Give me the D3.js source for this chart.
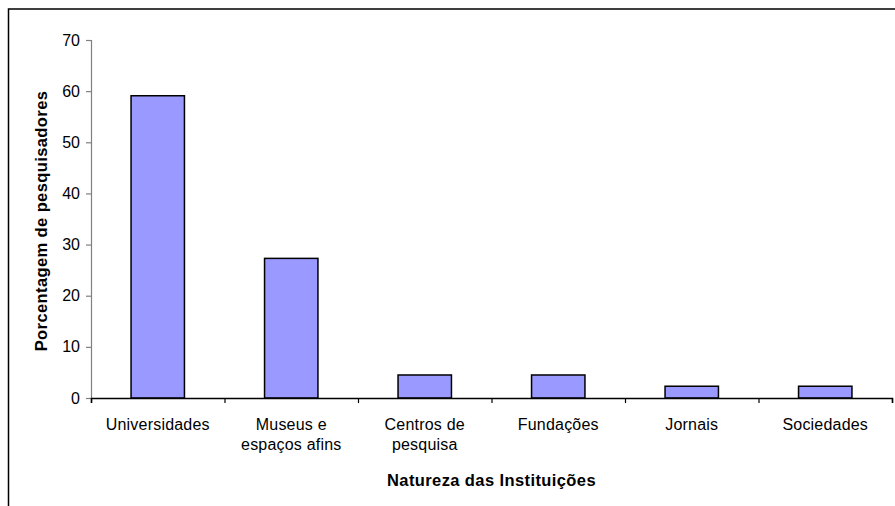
<!DOCTYPE html>
<html>
<head>
<meta charset="utf-8">
<script src="https://cdn.jsdelivr.net/npm/d3@7"></script>
<style>
  body { margin: 0; background: #fff; }
  svg text { font-family: "Liberation Sans", Arial, sans-serif; fill: #000; }
</style>
</head>
<body>
<div id="vis"></div>
<script>
const svgWidth = 895,
  svgHeight = 506;

// data
const categories = [
  ["Universidades"],
  ["Museus e", "espaços afins"],
  ["Centros de", "pesquisa"],
  ["Fundações"],
  ["Jornais"],
  ["Sociedades"],
];
const values = [59.1, 27.3, 4.5, 4.5, 2.3, 2.3];
const yTicks = [0, 10, 20, 30, 40, 50, 60, 70];
const xTitle = "Natureza das Instituições";
const yTitle = "Porcentagem de pesquisadores";

const plot = { left: 91, right: 892, top: 40, bottom: 398 };

const svg = d3
  .select("#vis")
  .append("svg")
  .attr("width", svgWidth)
  .attr("height", svgHeight);

// outer frame (only left and top visible in the picture)
svg
  .append("rect")
  .attr("x", 8.5)
  .attr("y", 9)
  .attr("width", svgWidth)
  .attr("height", svgHeight)
  .attr("fill", "none")
  .attr("stroke", "#000")
  .attr("stroke-width", 1.5);

const idx = categories.map((d, i) => i);

const x = d3
  .scaleBand()
  .domain(idx)
  .range([plot.left, plot.right])
  .paddingInner(0.6)
  .paddingOuter(0.3);

const xEdges = d3
  .scaleLinear()
  .domain([0, categories.length])
  .range([plot.left, plot.right]);

const y = d3.scaleLinear().domain([0, 70]).range([plot.bottom, plot.top]);

// bars
svg
  .append("g")
  .selectAll("rect")
  .data(values)
  .enter()
  .append("rect")
  .attr("x", (d, i) => x(i))
  .attr("y", (d) => y(d))
  .attr("width", x.bandwidth())
  .attr("height", (d) => y(0) - y(d))
  .attr("fill", "#9999ff")
  .attr("stroke", "#000")
  .attr("stroke-width", 1.5);

// y axis
const yAxis = svg
  .append("g")
  .attr("transform", `translate(${plot.left},0)`)
  .call(d3.axisLeft(y).tickValues(yTicks).tickSize(5).tickPadding(6));
yAxis.select(".domain").attr("stroke", "#808080").attr("stroke-width", 1.2);
yAxis.selectAll(".tick line").attr("stroke", "#808080").attr("stroke-width", 1.2);
yAxis
  .selectAll(".tick text")
  .style("font-family", "Liberation Sans, Arial, sans-serif")
  .style("font-size", "16px")
  .attr("fill", "#000");

// x axis: tick marks between the categories
const xAxis = svg
  .append("g")
  .attr("transform", `translate(0,${plot.bottom})`)
  .call(
    d3
      .axisBottom(xEdges)
      .tickValues(d3.range(categories.length + 1))
      .tickSize(5)
      .tickFormat("")
  );
xAxis.select(".domain").attr("stroke", "#000").attr("stroke-width", 1.5);
xAxis.selectAll(".tick line").attr("stroke", "#000").attr("stroke-width", 1.2);

// category labels
const labels = svg
  .append("g")
  .selectAll("text")
  .data(categories)
  .enter()
  .append("text")
  .attr("text-anchor", "middle")
  .style("font-size", "16px")
  .style("letter-spacing", "0.2px")
  .attr("y", 430);
labels
  .selectAll("tspan")
  .data((d, i) => d.map((t) => ({ t, i })))
  .enter()
  .append("tspan")
  .attr("x", (d) => x(d.i) + x.bandwidth() / 2)
  .attr("dy", (d, j) => (j === 0 ? 0 : 20))
  .text((d) => d.t);

// axis titles
svg
  .append("text")
  .attr("x", (plot.left + plot.right) / 2)
  .attr("y", 486)
  .attr("text-anchor", "middle")
  .style("font-size", "16.5px")
  .style("font-weight", "bold")
  .style("letter-spacing", "0.4px")
  .text(xTitle);

svg
  .append("text")
  .attr("transform", `translate(47,${(plot.top + plot.bottom) / 2 + 2}) rotate(-90)`)
  .attr("text-anchor", "middle")
  .style("font-size", "16.5px")
  .style("font-weight", "bold")
  .style("letter-spacing", "0.4px")
  .text(yTitle);
</script>
</body>
</html>
